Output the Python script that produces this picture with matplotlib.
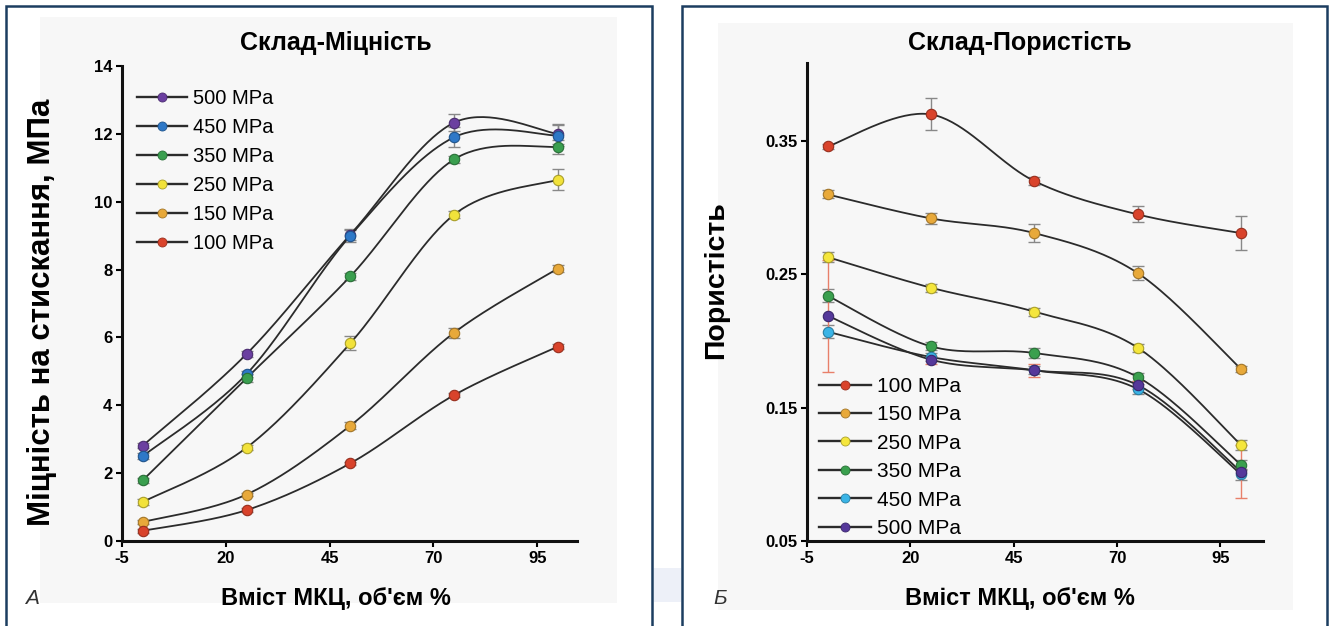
import matplotlib
matplotlib.use("Agg")
import matplotlib.pyplot as plt
import numpy as np
from matplotlib.patches import Rectangle

plt.rcParams["font.family"] = ["Liberation Sans", "DejaVu Sans"]
plt.rcParams["axes.unicode_minus"] = False

W, H = 1331, 626

# --- data -------------------------------------------------------------
mcc_content = [0, 25, 50, 75, 100]

# left panel: compressive strength, MPa
strength_labels = ["500 MPa", "450 MPa", "350 MPa", "250 MPa", "150 MPa", "100 MPa"]
strength_500 = [2.81, 5.51, 9.03, 12.33, 12.0]
strength_450 = [2.50, 4.92, 9.00, 11.90, 11.95]
strength_350 = [1.79, 4.80, 7.80, 11.25, 11.62]
strength_250 = [1.15, 2.75, 5.83, 9.62, 10.65]
strength_150 = [0.56, 1.37, 3.40, 6.14, 8.03]
strength_100 = [0.30, 0.91, 2.29, 4.30, 5.73]
strength_err_500 = [0.08, 0.08, 0.15, 0.25, 0.30]
strength_err_450 = [0.08, 0.10, 0.20, 0.30, 0.30]
strength_err_350 = [0.08, 0.12, 0.10, 0.10, 0.20]
strength_err_250 = [0.08, 0.08, 0.20, 0.10, 0.30]
strength_err_150 = [0.05, 0.05, 0.10, 0.15, 0.10]
strength_err_100 = [0.05, 0.05, 0.05, 0.05, 0.08]

# right panel: porosity
porosity_labels = ["100 MPa", "150 MPa", "250 MPa", "350 MPa", "450 MPa", "500 MPa"]
porosity_100 = [0.346, 0.370, 0.320, 0.295, 0.281]
porosity_150 = [0.310, 0.292, 0.281, 0.251, 0.179]
porosity_250 = [0.263, 0.240, 0.222, 0.195, 0.122]
porosity_350 = [0.234, 0.196, 0.191, 0.173, 0.107]
porosity_450 = [0.207, 0.188, 0.178, 0.164, 0.100]
porosity_500 = [0.219, 0.186, 0.178, 0.167, 0.102]
porosity_err_100 = [0.002, 0.012, 0.003, 0.006, 0.013]
porosity_err_150 = [0.003, 0.004, 0.007, 0.005, 0.002]
porosity_err_250 = [0.004, 0.003, 0.003, 0.003, 0.004]
porosity_err_350 = [0.005, 0.003, 0.004, 0.003, 0.004]
porosity_err_450 = [0.005, 0.003, 0.003, 0.004, 0.004]
porosity_err_500 = [0.042, 0.003, 0.005, 0.003, 0.020]

strength_colors = ["#6b3fa0", "#2e78c7", "#3a9f4f", "#f2e23a", "#e8a93a", "#d9432b"]
porosity_colors = ["#d9432b", "#e8a93a", "#f5e63c", "#3aa04e", "#3ab4e6", "#55389a"]
porosity_errcolors = ["#888888", "#888888", "#888888", "#888888", "#888888", "#e8806a"]


def px_box(x0, y0, x1, y1):
    # pixel box (top-left origin) -> figure fraction [l, b, w, h]
    return [x0 / W, 1 - y1 / H, (x1 - x0) / W, (y1 - y0) / H]


def smooth(xs, ys, n=40):
    # Excel-style smoothed line (Bezier through the points)
    pts = np.column_stack([xs, ys]).astype(float)
    ext = np.vstack([pts[0], pts, pts[-1]])
    out = []
    t = np.linspace(0, 1, n)[:, None]
    for i in range(1, len(ext) - 2):
        p0, p1, p2, p3 = ext[i - 1:i + 3]
        c1 = p1 + (p2 - p0) / 6
        c2 = p2 - (p3 - p1) / 6
        seg = (1 - t) ** 3 * p1 + 3 * (1 - t) ** 2 * t * c1 + 3 * (1 - t) * t ** 2 * c2 + t ** 3 * p2
        out.append(seg if i == 1 else seg[1:])
    seg = np.vstack(out)
    return seg[:, 0], seg[:, 1]


def darker(c, f=0.7):
    r, g, b = matplotlib.colors.to_rgb(c)
    return (r * f, g * f, b * f)


def draw_series(ax, ys, errs, color, errcolor, label):
    ax.errorbar(mcc_content, ys, yerr=errs, fmt="none", ecolor=errcolor,
                elinewidth=1.0, capsize=4, capthick=1.0, zorder=2)
    sx, sy = smooth(mcc_content, ys)
    ax.plot(sx, sy, color="#2b2b2b", lw=1.3, zorder=3)
    ax.plot(mcc_content, ys, ls="none", marker="o", ms=7.5, mfc=color,
            mec=darker(color), mew=0.8, zorder=4)
    # proxy for legend
    h, = ax.plot([], [], color="#2b2b2b", lw=1.7, marker="o", ms=6.5,
                 mfc=color, mec=darker(color), mew=0.6, label=label)
    return h


def style_axes(ax):
    ax.set_facecolor("none")
    for s in ["top", "right"]:
        ax.spines[s].set_visible(False)
    for s in ["left", "bottom"]:
        ax.spines[s].set_linewidth(2.2)
        ax.spines[s].set_color("#111111")
    ax.tick_params(direction="out", length=4, width=1.5, labelsize=12, pad=3)
    for lab in ax.get_xticklabels() + ax.get_yticklabels():
        lab.set_fontweight("bold")


fig = plt.figure(figsize=(W / 100, H / 100), dpi=100)

# panel frames and light backgrounds
fig.patches.append(Rectangle((40 / W, 1 - 603 / H), 577 / W, 586 / H, transform=fig.transFigure,
                             facecolor="#f7f7f7", edgecolor="none", zorder=-3))
fig.patches.append(Rectangle((718 / W, 1 - 610 / H), 575 / W, 587 / H, transform=fig.transFigure,
                             facecolor="#f7f7f7", edgecolor="none", zorder=-3))
fig.patches.append(Rectangle((654 / W, 1 - 602 / H), 27 / W, 34 / H, transform=fig.transFigure,
                             facecolor="#edf0f8", edgecolor="none", zorder=-3))
for x0, x1 in [(6, 652), (682, 1327)]:
    fig.patches.append(Rectangle((x0 / W, -0.05), (x1 - x0) / W, 1.05 - 6 / H,
                                 transform=fig.transFigure, facecolor="none",
                                 edgecolor="#1c3d60", lw=1.8, zorder=-1))

# --- left panel: strength -------------------------------------------
ax1 = fig.add_axes(px_box(122, 66, 577, 541))
strength_series = [strength_500, strength_450, strength_350, strength_250, strength_150, strength_100]
strength_errs = [strength_err_500, strength_err_450, strength_err_350, strength_err_250,
                 strength_err_150, strength_err_100]
handles1 = []
for ys, es, c, lab in zip(strength_series, strength_errs, strength_colors, strength_labels):
    handles1.append(draw_series(ax1, ys, es, c, "#888888", lab))
ax1.set_xlim(-5, 104.6)
ax1.set_ylim(0, 14)
ax1.set_xticks([-5, 20, 45, 70, 95])
ax1.set_yticks([0, 2, 4, 6, 8, 10, 12, 14])
style_axes(ax1)
ax1.legend(handles=handles1, loc="upper left", bbox_to_anchor=(137 / W, 1 - 89 / H),
           bbox_transform=fig.transFigure, frameon=False, fontsize=14.5, borderpad=0,
           borderaxespad=0, handlelength=2.5, handletextpad=0.3, labelspacing=0.5)

fig.text(336 / W, 1 - 43 / H, "Склад-Міцність", ha="center", va="center",
         fontsize=18, fontweight="bold")
fig.text(336 / W, 1 - 598 / H, "Вміст МКЦ, об'єм %", ha="center", va="center",
         fontsize=17, fontweight="bold")
fig.text(42 / W, 1 - 312 / H, "Міцність на стискання, МПа", ha="center", va="center",
         rotation=90, fontsize=22.5, fontweight="bold")
fig.text(32 / W, 1 - 598 / H, "А", ha="center", va="center", fontsize=15,
         style="italic", color="#333333")

# --- right panel: porosity ------------------------------------------
ax2 = fig.add_axes(px_box(807, 63, 1263, 541))
porosity_series = [porosity_100, porosity_150, porosity_250, porosity_350, porosity_450, porosity_500]
porosity_errs = [porosity_err_100, porosity_err_150, porosity_err_250, porosity_err_350,
                 porosity_err_450, porosity_err_500]
handles2 = []
for ys, es, c, ec, lab in zip(porosity_series, porosity_errs, porosity_colors,
                              porosity_errcolors, porosity_labels):
    handles2.append(draw_series(ax2, ys, es, c, ec, lab))
ax2.set_xlim(-5, 105.3)
ax2.set_ylim(0.05, 0.4086)
ax2.set_xticks([-5, 20, 45, 70, 95])
ax2.set_yticks([0.05, 0.15, 0.25, 0.35])
ax2.set_yticklabels(["0.05", "0.15", "0.25", "0.35"])
style_axes(ax2)
ax2.legend(handles=handles2, loc="upper left", bbox_to_anchor=(819 / W, 1 - 377 / H),
           bbox_transform=fig.transFigure, frameon=False, fontsize=15, borderpad=0,
           borderaxespad=0, handlelength=2.5, handletextpad=0.3, labelspacing=0.45)

fig.text(1020 / W, 1 - 43 / H, "Склад-Пористість", ha="center", va="center",
         fontsize=18, fontweight="bold")
fig.text(1020 / W, 1 - 598 / H, "Вміст МКЦ, об'єм %", ha="center", va="center",
         fontsize=17, fontweight="bold")
fig.text(716 / W, 1 - 280 / H, "Пористість", ha="center", va="center",
         rotation=90, fontsize=20.5, fontweight="bold")
fig.text(720 / W, 1 - 598 / H, "Б", ha="center", va="center", fontsize=15,
         style="italic", color="#333333")

fig.savefig("out.png", dpi=100)
